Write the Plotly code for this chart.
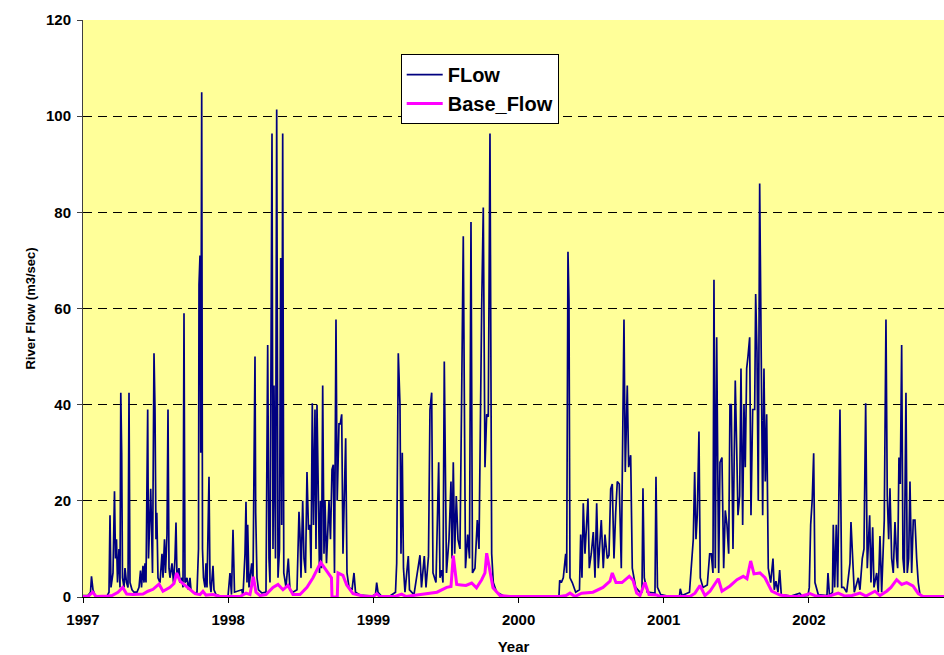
import plotly.graph_objects as go

# ---- Data (decimal years, river flow m3/sec) ----
flow_year = [
    1997.0000, 1997.0344, 1997.0517, 1997.0585, 1997.0689, 1997.0826, 1997.1653, 1997.1791,
    1997.1860, 1997.1928, 1997.2066, 1997.2169, 1997.2238, 1997.2307, 1997.2376, 1997.2479,
    1997.2548, 1997.2603, 1997.2665, 1997.2720, 1997.2824, 1997.2893, 1997.2996, 1997.3099,
    1997.3168, 1997.3237, 1997.3375, 1997.3512, 1997.3719, 1997.3857, 1997.3960, 1997.4029,
    1997.4132, 1997.4201, 1997.4270, 1997.4339, 1997.4456, 1997.4511, 1997.4663, 1997.4718,
    1997.4787, 1997.4890, 1997.4959, 1997.5028, 1997.5083, 1997.5165, 1997.5303, 1997.5441,
    1997.5510, 1997.5613, 1997.5682, 1997.5785, 1997.5854, 1997.5923, 1997.5992, 1997.6130,
    1997.6233, 1997.6336, 1997.6405, 1997.6474, 1997.6612, 1997.6680, 1997.6818, 1997.6887,
    1997.6956, 1997.7025, 1997.7163, 1997.7266, 1997.7369, 1997.7438, 1997.7576, 1997.7714,
    1997.7851, 1997.7955, 1997.7989, 1997.8058, 1997.8113, 1997.8175, 1997.8230, 1997.8299,
    1997.8402, 1997.8471, 1997.8540, 1997.8678, 1997.8747, 1997.8815, 1997.8953, 1997.9022,
    1997.9160, 1997.9435, 1997.9986,
    1998.0124, 1998.0227, 1998.0331, 1998.0434, 1998.0930, 1998.1019, 1998.1157, 1998.1226,
    1998.1295, 1998.1343, 1998.1433, 1998.1618, 1998.1708, 1998.1846, 1998.1894, 1998.1983,
    1998.2087, 1998.2328, 1998.2603, 1998.2720, 1998.2810, 1998.2879, 1998.3017, 1998.3085,
    1998.3154, 1998.3258, 1998.3340, 1998.3430, 1998.3533, 1998.3616, 1998.3685, 1998.3753,
    1998.3829, 1998.3981, 1998.4139, 1998.4256, 1998.4463, 1998.4738, 1998.4876, 1998.4945,
    1998.5014, 1998.5131, 1998.5220, 1998.5324, 1998.5427, 1998.5530, 1998.5634, 1998.5703,
    1998.5792, 1998.5875, 1998.5978, 1998.6047, 1998.6116, 1998.6219, 1998.6288, 1998.6357,
    1998.6426, 1998.6508, 1998.6598, 1998.6667, 1998.6770, 1998.6942, 1998.7045, 1998.7149,
    1998.7238, 1998.7321, 1998.7424, 1998.7507, 1998.7631, 1998.7720, 1998.7817, 1998.7906,
    1998.8092, 1998.8182, 1998.8320, 1998.8526, 1998.8664, 1998.8767, 1998.9077, 1998.9904,
    1999.0145, 1999.0227, 1999.0317, 1999.0523, 1999.1143, 1999.1522, 1999.1605, 1999.1715,
    1999.1832, 1999.1901, 1999.1990, 1999.2073, 1999.2176, 1999.2404, 1999.2486, 1999.2796,
    1999.3209, 1999.3313, 1999.3506, 1999.3623, 1999.3795, 1999.3898, 1999.4015, 1999.4105,
    1999.4311, 1999.4497, 1999.4587, 1999.4704, 1999.4793, 1999.4883, 1999.5034, 1999.5207,
    1999.5344, 1999.5413, 1999.5503, 1999.5599, 1999.5709, 1999.5826, 1999.5964, 1999.6081,
    1999.6191, 1999.6343, 1999.6495, 1999.6619, 1999.6722, 1999.6825, 1999.6997, 1999.7156,
    1999.7273, 1999.7459, 1999.7569, 1999.7686, 1999.7803, 1999.7913, 1999.8030, 1999.8147,
    1999.8258, 1999.8492, 1999.8926, 1999.9959,
    2000.1474, 2000.2782, 2000.2831, 2000.2941, 2000.3079, 2000.3244, 2000.3313, 2000.3402,
    2000.3471, 2000.3540, 2000.3698, 2000.3933, 2000.4194, 2000.4277, 2000.4366, 2000.4456,
    2000.4573, 2000.4663, 2000.4780, 2000.4869, 2000.5007, 2000.5145, 2000.5262, 2000.5379,
    2000.5489, 2000.5696, 2000.5833, 2000.5950, 2000.6109, 2000.6226, 2000.6343, 2000.6453,
    2000.6570, 2000.6687, 2000.6798, 2000.6935, 2000.7073, 2000.7259, 2000.7348, 2000.7486,
    2000.7583, 2000.7720, 2000.7831, 2000.8065, 2000.8409, 2000.8499, 2000.8567, 2000.8657,
    2000.8864, 2000.9394, 2000.9463, 2000.9566, 2000.9787,
    2001.0427, 2001.1081, 2001.1136, 2001.1253, 2001.1770, 2001.1894, 2001.2032, 2001.2128,
    2001.2218, 2001.2307, 2001.2424, 2001.2514, 2001.2700, 2001.2996, 2001.3161, 2001.3271,
    2001.3388, 2001.3457, 2001.3547, 2001.3643, 2001.3781, 2001.3871, 2001.4008, 2001.4125,
    2001.4236, 2001.4353, 2001.4470, 2001.4559, 2001.4649, 2001.4766, 2001.4835, 2001.4924,
    2001.5021, 2001.5110, 2001.5227, 2001.5317, 2001.5434, 2001.5523, 2001.5613, 2001.5709,
    2001.5799, 2001.5916, 2001.6006, 2001.6123, 2001.6260, 2001.6329, 2001.6419, 2001.6508,
    2001.6605, 2001.6715, 2001.6811, 2001.6901, 2001.6990, 2001.7087, 2001.7197, 2001.7362,
    2001.7521, 2001.7610, 2001.7727, 2001.7865, 2001.7982, 2001.8092, 2001.8760, 2001.9360,
    2001.9518, 2001.9931,
    2002.0021, 2002.0117, 2002.0227, 2002.0324, 2002.0413, 2002.0641, 2002.1240, 2002.1309,
    2002.1412, 2002.1618, 2002.1674, 2002.1770, 2002.1880, 2002.1977, 2002.2135, 2002.2252,
    2002.2390, 2002.2596, 2002.2824, 2002.2893, 2002.3010, 2002.3120, 2002.3395, 2002.3512,
    2002.3671, 2002.3788, 2002.3905, 2002.4015, 2002.4180, 2002.4270, 2002.4387, 2002.4477,
    2002.4663, 2002.4773, 2002.4890, 2002.5007, 2002.5186, 2002.5303, 2002.5393, 2002.5489,
    2002.5579, 2002.5696, 2002.5806, 2002.5923, 2002.6040, 2002.6109, 2002.6198, 2002.6288,
    2002.6384, 2002.6474, 2002.6563, 2002.6680, 2002.6770, 2002.6866, 2002.6956, 2002.7073,
    2002.7183, 2002.7300, 2002.7417, 2002.7528, 2002.7645, 2002.7851, 2002.9298,
]
flow_value = [
    0.3, 0.3, 1, 4.3, 1.5, 0.3, 0.2, 1,
    17, 2, 5, 22, 8, 12, 3, 10,
    2, 42.5, 30, 4, 2, 6, 3, 2,
    42.5, 3, 1.5, 1, 1, 2, 5.5, 2,
    6.5, 3, 7, 3, 39, 8, 22.5, 10,
    5, 50.7, 39, 12, 17.5, 4, 3, 9,
    4, 12, 5, 13, 39, 6, 4, 7,
    3, 8, 15.5, 4, 6, 3, 4, 2,
    59, 3, 4, 1.5, 4, 1.5, 1, 0.8,
    1, 10, 65, 71, 30, 105, 10, 4,
    2, 7, 2, 25, 3, 1, 6.5, 1.5,
    0.5, 0.2, 0.1,
    5, 0.5, 14, 1, 1.5, 0.3, 9, 19.8,
    3, 15, 2, 7, 3, 50, 17.5, 4,
    1.5, 0.8, 1, 52.4, 8, 3, 96.4, 10,
    44, 8, 101.4, 4, 10, 70.5, 15, 96.4,
    5, 2, 8, 1.5, 1, 1.5, 17.7, 13,
    4, 20, 8, 5, 26, 14, 15, 6,
    40.3, 15, 39, 10, 40, 17, 5, 20,
    6, 44, 9, 20, 7, 20, 12, 26.5,
    27.5, 5, 57.7, 20, 36, 36, 38, 9,
    33, 5, 2, 1.5, 5, 1, 0.4, 0.2,
    0.5, 3, 1, 0.3, 0.2, 1, 7, 50.7,
    40, 9, 30, 6, 1, 8.5, 1.5, 0.5,
    8.7, 2, 8.5, 2, 8.5, 39, 42.5, 5,
    3, 28, 4, 5.6, 3, 49, 5, 12,
    24, 8, 28, 9, 21, 12, 10, 42.5,
    75, 6, 13, 8, 78, 5, 6, 16,
    10, 60.4, 81, 27, 38, 37.5, 96.4, 9,
    3, 1, 0.3, 0.1,
    0.1, 0.2, 3.5, 3, 4, 9, 5, 71.8,
    61.4, 4, 3, 1, 1.5, 13, 4, 19.5,
    9, 13.5, 20.5, 6, 9, 13.5, 4, 19.5,
    6, 16, 6, 13, 8, 8.7, 22.5, 23.5,
    8, 17.5, 24, 23.5, 6, 57.7, 26, 44,
    27, 29.5, 6, 2, 0.8, 1, 22.6, 4,
    1, 0.8, 25, 2, 0.5,
    0.1, 0.2, 1.7, 0.3, 1, 7, 12, 26,
    12, 17, 34.4, 4, 2, 2.5, 9, 9,
    5, 66, 6, 54, 5, 28, 29, 6,
    18, 15, 9, 40, 40, 10, 30.5, 45,
    31, 17, 21, 47.5, 15, 40, 27, 47.5,
    50, 54, 17, 39, 39, 63, 51, 20,
    86, 52.4, 17, 47.5, 24, 38, 6, 3,
    8, 1.5, 3.3, 1, 5.6, 0.5, 0.2, 0.8,
    0.2, 0.3,
    2, 15, 20.5, 29.9, 3, 0.5, 0.3, 5,
    0.3, 1, 15, 2, 15, 2, 39, 2,
    2, 1, 7, 15.6, 7, 1, 4, 1.5,
    8, 10, 40.3, 6, 17, 3, 14.5, 2,
    5, 1, 12.7, 1, 16, 57.7, 21, 12,
    22.6, 8, 5, 15.6, 8, 6, 29, 23.5,
    52.4, 8, 5, 42.5, 5, 8, 24, 5,
    16, 16, 8, 3, 0.5, 0.1, 0.1,
]

base_year = [
    1997.0000, 1997.0344, 1997.0668, 1997.0895, 1997.1722, 1997.1997, 1997.2410, 1997.2734,
    1997.3010, 1997.3444, 1997.4132, 1997.4477, 1997.4821, 1997.5234, 1997.5510, 1997.5992,
    1997.6267, 1997.6453, 1997.6680, 1997.7163, 1997.7714, 1997.8058, 1997.8264, 1997.8471,
    1997.8953, 1997.9435,
    1998.0000, 1998.0813, 1998.1226, 1998.1501, 1998.1729, 1998.1915, 1998.2190, 1998.2603,
    1998.3085, 1998.3430, 1998.3774, 1998.4118, 1998.4463, 1998.4945, 1998.5427, 1998.5840,
    1998.6371, 1998.6736, 1998.7114, 1998.7149, 1998.7514, 1998.7562, 1998.7906, 1998.8161,
    1998.8595, 1998.9284,
    1999.0000, 1999.0227, 1999.0455, 1999.1488, 1999.1949, 1999.2245, 1999.3898, 1999.4380,
    1999.5048, 1999.5344, 1999.5503, 1999.5737, 1999.6033, 1999.6377, 1999.6770, 1999.7101,
    1999.7459, 1999.7686, 1999.7803, 1999.7961, 1999.8237, 1999.8719, 1999.9408,
    2000.0000, 2000.2851, 2000.3264, 2000.3540, 2000.3884, 2000.4346, 2000.5124, 2000.5813,
    2000.6295, 2000.6453, 2000.6708, 2000.7121, 2000.7624, 2000.7879, 2000.8134, 2000.8361,
    2000.8705, 2000.8981, 2000.9511, 2000.9738,
    2001.0000, 2001.1804, 2001.2149, 2001.2493, 2001.2837, 2001.3182, 2001.3753, 2001.4008,
    2001.4559, 2001.5041, 2001.5475, 2001.5730, 2001.5985, 2001.6212, 2001.6625, 2001.6970,
    2001.7431, 2001.8003, 2001.8692, 2001.9380,
    2002.0069, 2002.0482, 2002.1309, 2002.2018, 2002.2479, 2002.2961, 2002.3512, 2002.3926,
    2002.4545, 2002.4890, 2002.5351, 2002.5647, 2002.6040, 2002.6384, 2002.6729, 2002.7163,
    2002.7528, 2002.7851, 2002.9298,
]
base_value = [
    0.1, 0.1, 1.0, 0.1, 0.2, 0.3, 1.0, 2.0,
    0.6, 0.5, 0.6, 1.2, 1.6, 2.7, 1.2, 2.0,
    2.8, 5.0, 3.3, 2.0, 0.7, 0.5, 1.2, 0.4,
    0.5, 0.1,
    0.1, 0.1, 0.8, 0.5, 4.2, 1.0, 0.3, 0.5,
    2.0, 2.6, 1.5, 2.4, 0.5, 0.5, 2.0, 4.0,
    7.2, 5.5, 4.0, 0.0, 0.0, 5.0, 4.5, 2.5,
    0.7, 0.2,
    0.1, 0.7, 0.1, 0.1, 0.6, 0.1, 0.7, 1.0,
    2.0, 2.2, 8.6, 2.6, 2.5, 2.4, 2.9, 1.9,
    3.6, 5.0, 9.1, 6.7, 1.9, 0.3, 0.1,
    0.1, 0.1, 0.3, 0.8, 0.1, 0.8, 1.0, 2.0,
    3.3, 5.0, 3.0, 3.0, 4.3, 3.5, 0.8, 0.3,
    3.0, 0.5, 0.4, 0.1,
    0.1, 0.1, 0.8, 2.4, 0.3, 1.2, 3.8, 1.2,
    2.3, 3.6, 4.3, 3.8, 7.5, 4.8, 5.0, 4.0,
    1.2, 0.4, 0.1, 0.1,
    0.7, 0.2, 0.1, 0.8, 0.2, 0.3, 0.8, 0.2,
    1.2, 0.3, 1.2, 2.0, 3.6, 2.6, 3.0, 2.3,
    0.7, 0.1, 0.1,
]

year_ticks = [1997, 1998, 1999, 2000, 2001, 2002]
flow_ticks = [0, 20, 40, 60, 80, 100, 120]

FONT = "Liberation Sans, Arial, sans-serif"

fig = go.Figure()
fig.add_trace(go.Scatter(
    x=flow_year, y=flow_value, mode="lines", name="FLow",
    line=dict(color="#000080", width=1.7), legendgroup="a",
))
fig.add_trace(go.Scatter(
    x=base_year, y=base_value, mode="lines", name="Base_Flow",
    line=dict(color="#FF00FF", width=3), legendgroup="b",
))

fig.update_layout(
    width=944, height=655,
    margin=dict(l=83, r=0, t=20, b=58, autoexpand=False),
    paper_bgcolor="white",
    plot_bgcolor="#FFFF99",
    font=dict(family=FONT, color="black"),
    showlegend=True,
    legend=dict(
        x=0.369, y=0.941, xanchor="left", yanchor="top",
        bgcolor="white", bordercolor="black", borderwidth=1,
        font=dict(family=FONT, size=20, weight="bold", color="black"),
        tracegroupgap=0, itemwidth=36,
    ),
    xaxis=dict(
        range=[1997, 2002.93],
        automargin=False,
        tickmode="array", tickvals=year_ticks,
        ticktext=[str(y) for y in year_ticks],
        ticks="outside", ticklen=5, tickcolor="black",
        showline=True, linecolor="black", linewidth=1,
        showgrid=False, zeroline=False,
        ticklabelstandoff=4,
        tickfont=dict(family=FONT, size=15, weight="bold"),
        title=dict(text="Year", font=dict(family=FONT, size=15, weight="bold"), standoff=17),
    ),
    yaxis=dict(
        range=[0, 120],
        automargin=False,
        tickmode="array", tickvals=flow_ticks,
        ticks="outside", ticklen=5, tickcolor="#404040",
        showline=True, linecolor="#404040", linewidth=1,
        showgrid=True, gridcolor="black", gridwidth=1, griddash="9px,6px",
        zeroline=False,
        ticklabelstandoff=3,
        tickfont=dict(family=FONT, size=15, weight="bold"),
        title=dict(text="River Flow (m3/sec)", font=dict(family=FONT, size=13, weight="bold"), standoff=7),
    ),
)

# remove the page's default body margin so the figure fills the window
fig.write_html("out.html", config={"displayModeBar": False},
               post_script="document.body.style.margin='0';")
